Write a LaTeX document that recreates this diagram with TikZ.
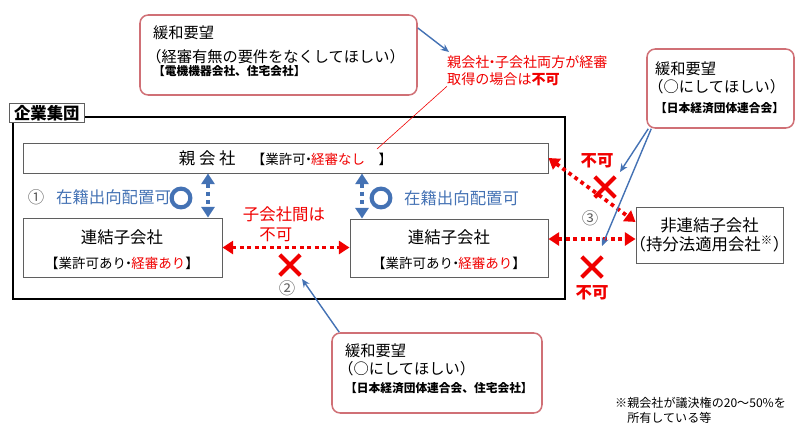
\documentclass[tikz,border=0pt]{standalone}
\usepackage{fontspec}
\setmainfont{Noto Sans CJK JP}
\usepackage{xcolor}
\definecolor{kgblue}{RGB}{68,114,180}
\definecolor{kgred}{RGB}{240,0,0}
\definecolor{kgpink}{RGB}{208,112,118}
\definecolor{kggray}{RGB}{95,95,95}
\usetikzlibrary{arrows.meta,positioning,calc,fit,shapes.misc}

\newcommand{\szmain}{\fontsize{14}{17}\selectfont}
\newcommand{\szsmall}{\fontsize{11.5}{13}\selectfont}
\newcommand{\szcall}{\fontsize{13}{16}\selectfont}
\newcommand{\szorg}{\fontsize{10}{12}\selectfont\bfseries}
\newcommand{\sznote}{\fontsize{12}{15}\selectfont}
\newcommand{\szfoot}{\fontsize{10.3}{13}\selectfont}
\newcommand{\nkg}{\kern-0.3em・\kern-0.3em}
\newcommand{\lparen}{\hspace{-0.45em}（}

\begin{document}
\begin{tikzpicture}[x=0.03cm, y=-0.03cm,
    box/.style={draw=kggray, line width=0.8pt, fill=white, inner sep=0pt},
    callout/.style={draw=kgpink, line width=1.3pt, rounded corners=7pt, fill=white, inner sep=0pt},
    ngarrow/.style={kgred, line width=3.2pt, dash pattern=on 3.2pt off 3.2pt,
      {Triangle[length=9pt,width=11pt]}-{Triangle[length=9pt,width=11pt]}},
    okarrow/.style={kgblue, line width=4pt, dash pattern=on 4pt off 3pt,
      {Triangle[length=9pt,width=11pt]}-{Triangle[length=9pt,width=11pt]}},
    pointer/.style={kgblue, line width=1.2pt, -{Stealth[length=7pt,width=6pt]}},
    ngmark/.style={cross out, draw=kgred, line width=3.5pt, minimum size=14pt, inner sep=0pt},
    okring/.style={circle, draw=kgblue, line width=3.5pt, minimum size=16pt, inner sep=0pt},
    ngtext/.style={font=\szmain\bfseries, text=kgred},
  ]
  \useasboundingbox (0,0) rectangle (800,434);

  % Corporate group frame
  \node[draw, line width=2.4pt, inner sep=0pt, fit={(13,117) (565,299)}] (grp) {};
  \node[draw=kggray, fill=white, line width=0.6pt, font=\szmain\bfseries,
        inner xsep=4pt, inner ysep=1.5pt, anchor=north west] (grplbl) at (9,103) {企業集団};

  % Companies
  \node[box, fit={(23,143) (548,173)}] (parent) {};
  \node[font=\szmain] (parenttxt) at (parent.center)
    {親 会 社\hspace{1em}{\szsmall【業許可\nkg\textcolor{kgred}{経審なし}　】}};

  \node[box, fit={(23,218) (222,277)}] (subL) {};
  \node[font=\szmain] (subLname) at (122,237) {連結子会社};
  \node[font=\szsmall] (subLlic) at (122,263) {【業許可あり\nkg\textcolor{kgred}{経審あり}】};

  \node[box, fit={(350,219) (548,277)}] (subR) {};
  \node[font=\szmain] (subRname) at (449,237) {連結子会社};
  \node[font=\szsmall] (subRlic) at (449,263) {【業許可あり\nkg\textcolor{kgred}{経審あり}】};

  \node[box, fit={(636,207) (783,263)}] (nonsub) {};
  \node[font=\szmain, align=center] (nonsubtxt) at (nonsub.center)
    {非連結子会社\\[-1pt]（持分法適用会社\textsuperscript{※}）};

  % (1) secondment parent <-> subsidiaries
  \coordinate (aL) at (208,0);
  \coordinate (aR) at (362,0);
  \draw[okarrow] (parent.south -| aL) -- (subL.north -| aL);
  \draw[okarrow] (parent.south -| aR) -- (subR.north -| aR);
  \node[font=\szmain, text=kggray] (no1) at (36,197) {①};
  \node[font=\szmain, text=kgblue, anchor=west] (okLtxt) at (52,197) {在籍出向配置可};
  \node[okring] (okL) at (181,198) {};
  \node[okring] (okR) at (381,198) {};
  \node[font=\szmain, text=kgblue, anchor=west] (okRtxt) at (400,198) {在籍出向配置可};

  % (2) between subsidiaries
  \draw[ngarrow] (subL.east) -- (subL.east -| subR.west);
  \node[font=\szmain, text=kgred, align=left] (ngsubtxt) at (284,224) {子会社間は\\　不可};
  \node[ngmark] (ngMid) at (290,265) {};
  \node[font=\szmain, text=kggray] (no2) at (287,288) {②};

  % (3) group <-> non-consolidated subsidiary
  \coordinate (h3) at (0,239);
  \draw[ngarrow] (parent.east) -- (nonsub.170);
  \draw[ngarrow] (subR.east |- h3) -- (nonsub.west |- h3);
  \node[ngtext] (ngTopTxt) at (597,161) {不可};
  \node[ngmark] (ngTop) at (605,187) {};
  \node[font=\szmain, text=kggray] (no3) at (590,218) {③};
  \node[ngmark] (ngBot) at (592,267) {};
  \node[ngtext] (ngBotTxt) at (592,293) {不可};

  % Note on both companies holding keishin
  \node[font=\sznote, text=kgred, align=left, inner sep=0pt, anchor=north west] (bothnote) at (447,55)
    {親会社\nkg 子会社両方が経審\\取得の場合は\textbf{不可}};
  \coordinate (noteTip) at (377,149);
  \draw[kgred, line width=0.5pt] (bothnote.south west) -- (noteTip);

  % Requests for relaxation
  \node[callout, fit={(140,15) (417,95)}] (callTL) {};
  \node[font=\szcall, align=left, inner sep=0pt, anchor=north west] (callTLtxt) at (153,25)
    {緩和要望\\[5pt]\lparen 経審有無の要件をなくしてほしい）\\[-5pt]{\szorg【電機機器会社、住宅会社】}};

  \node[callout, fit={(647,49) (794,128)}] (callTR) {};
  \node[font=\szcall, align=left, inner sep=0pt, anchor=north west] (callTRtxt) at (655,61)
    {緩和要望\\[0pt]\lparen ○にしてほしい）\\[1pt]{\szorg【日本経済団体連合会】}};

  \node[callout, fit={(332,333) (542,413)}] (callB) {};
  \node[font=\szcall, align=left, inner sep=0pt, anchor=north west] (callBtxt) at (345,343)
    {緩和要望\\[0pt]\lparen ○にしてほしい）\\[-1pt]{\szorg【日本経済団体連合会、住宅会社】}};

  % Pointers
  \coordinate (tipTL) at (449,52);
  \coordinate (tipTR1) at (620,172);
  \coordinate (tipTR2) at (602,246);
  \coordinate (tipB) at (302,279);
  \draw[pointer] (callTL.11) -- (tipTL);
  \draw[pointer] ($(callTR.south west)+(2,0)$) -- (tipTR1);
  \draw[pointer] ($(callTR.south west)+(5,0)$) -- (tipTR2);
  \draw[pointer] ($(callB.north west)+(8,0)$) -- (tipB);

  % Footnote
  \node[font=\szfoot, align=left, inner sep=0pt, anchor=north west] (foot) at (615,397)
    {※親会社が議決権の20～50\%を\\\hspace{1em}所有している等};
\end{tikzpicture}
\end{document}
